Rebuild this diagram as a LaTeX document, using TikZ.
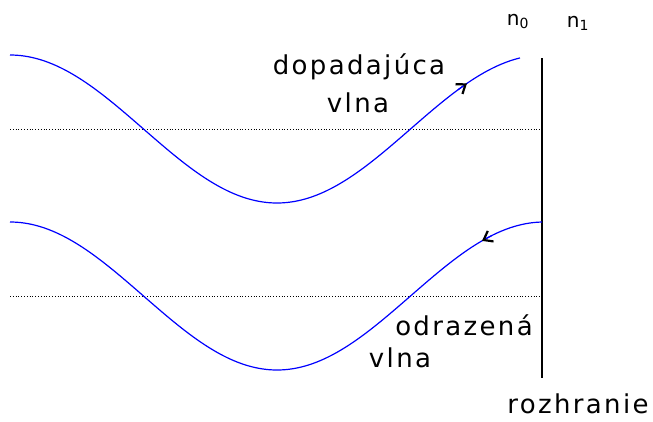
\documentclass[tikz,border=0pt]{standalone}
\usepackage{fontspec}
\newfontfamily\handfont[LetterSpace=9]{DejaVu Sans}
\usetikzlibrary{arrows.meta}
\begin{document}
\begin{tikzpicture}[x=1pt, y=-1pt,
  every node/.style={font=\handfont\fontsize{26}{30}\selectfont,
    inner sep=0pt, anchor=base},
  idx/.style={font=\handfont\fontsize{20}{24}\selectfont},
  wave/.style={blue, line width=1.2pt, samples=200},
  midline/.style={dotted, line width=0.8pt},
  tip/.style={blue, line width=1.2pt,
    -{Straight Barb[color=black, length=8pt, width=12pt, line width=2.2pt]}}]
\useasboundingbox (0,0) rectangle (653,421);
%
% ---- Boundary ----
\draw[line width=1.3pt] (542,58) -- (542,378);
%
% ---- Midlines ----
\draw[midline] (10,129) -- (540,129);
\draw[midline] (10,296) -- (540,296);
%
% ---- Waves ----
\draw[wave, domain=10:520] plot (\x, {129-74*cos((\x-10)/267*180)});
\draw[wave, domain=10:542] plot (\x, {296-74*cos((\x-10)/267*180)});
%
% ---- Direction marks ----
\coordinate (inA) at (458,{129-74*cos(448/267*180)});
\coordinate (inB) at (467,{129-74*cos(457/267*180)});
\coordinate (outA) at (492,{296-74*cos(482/267*180)});
\coordinate (outB) at (482,{296-74*cos(472/267*180)});
\draw[tip] (inA) -- (inB);
\draw[tip] (outA) -- (outB);
%
% ---- Labels ----
\node (incident) at (359,74) {dopadajúca};
\node (incwave) at (358,112) {vlna};
\node (reflected) at (464,335) {odrazená};
\node (refwave) at (400,367) {vlna};
\node (iface) at (578,413) {rozhranie};
\node[idx] (nzero) at (518,25) {n\textsubscript{0}};
\node[idx] (none) at (578,27) {n\textsubscript{1}};
\end{tikzpicture}
\end{document}
